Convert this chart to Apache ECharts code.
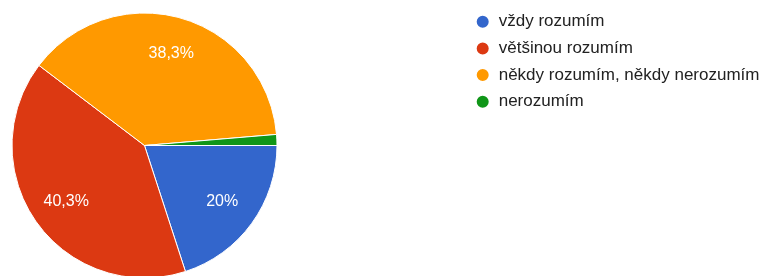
<!DOCTYPE html>
<html><head><meta charset="utf-8">
<script src="https://cdn.jsdelivr.net/npm/echarts@6/dist/echarts.min.js"></script>
<style>html,body{margin:0;padding:0;background:#fff}#c{width:772px;height:276px}</style>
</head><body><div id="c"></div>
<script>
const categories = ['vždy rozumím', 'většinou rozumím', 'někdy rozumím, někdy nerozumím', 'nerozumím'];
const values = [60, 121, 115, 4];
const colors = ['#3366cc', '#dc3912', '#ff9900', '#109618'];

const data = categories.map((n, i) => ({ name: n, value: values[i], itemStyle: { color: colors[i] } }));
const total = values.reduce((a, b) => a + b, 0);
const fmt = v => {
  const p = Math.round(v / total * 1000) / 10;
  return (p % 1 === 0 ? p.toFixed(0) : p.toFixed(1)).replace('.', ',') + '%';
};
const FONT = '"Liberation Sans", Arial, sans-serif';
const chart = echarts.init(document.getElementById('c'));
chart.setOption({
  animation: false,
  legend: {
    orient: 'vertical', left: 474.7, top: 13.2, padding: 0,
    icon: 'circle', itemWidth: 14, itemHeight: 14, itemGap: 9.7,
    textStyle: { fontFamily: FONT, fontSize: 17, lineHeight: 17, color: '#222', padding: [0, 0, 0, 4] },
    data: categories
  },
  series: [{
    type: 'pie', center: [144.5, 145.5], radius: [0, 132.5],
    startAngle: 0, clockwise: true, silent: true,
    itemStyle: { borderColor: '#fff', borderWidth: 1 },
    label: { show: false }, labelLine: { show: false },
    data: data
  }, {
    type: 'pie', center: [144.5, 145.5], radius: [60, 126],
    startAngle: 0, clockwise: true, silent: true,
    itemStyle: { color: 'rgba(0,0,0,0)' },
    legendHoverLink: false,
    label: {
      show: true, position: 'inside', color: '#fff',
      fontFamily: FONT, fontSize: 16,
      formatter: p => (p.value / total < 0.05 ? '' : fmt(p.value))
    },
    labelLine: { show: false },
    data: categories.map((n, i) => ({ name: n + ' ', value: values[i] }))
  }]
});
</script></body></html>
